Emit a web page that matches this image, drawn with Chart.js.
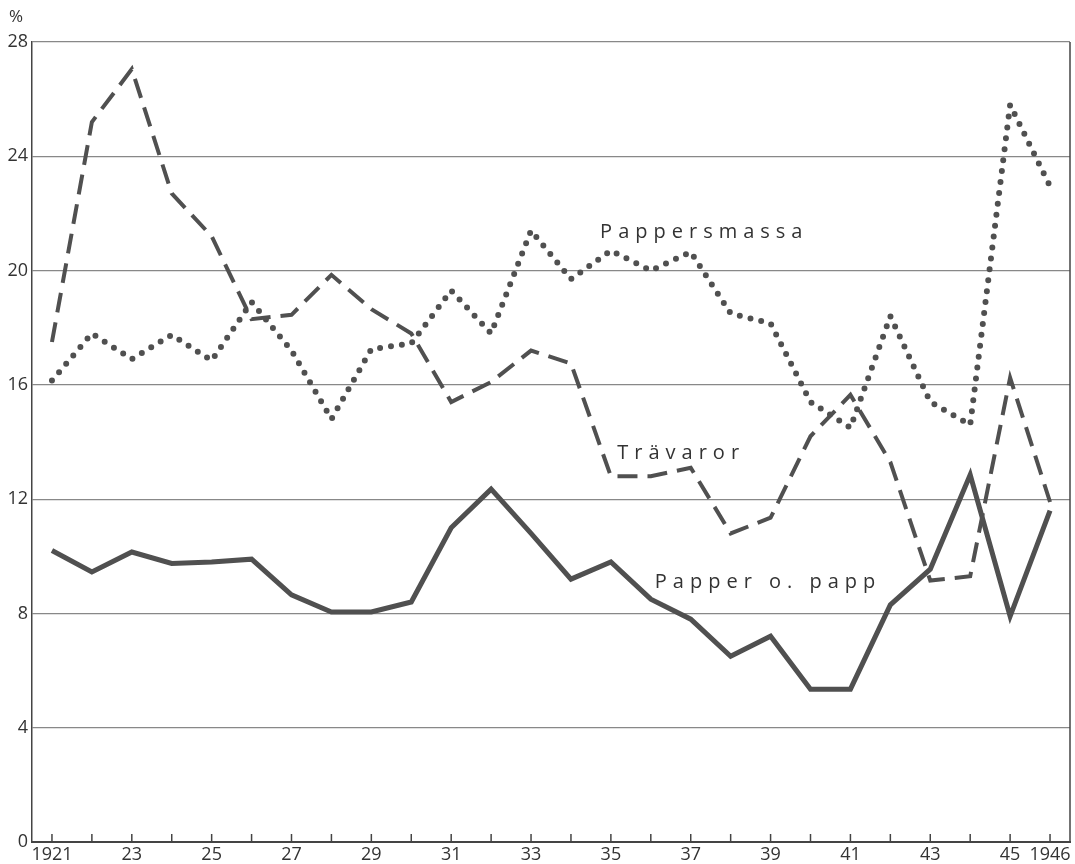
<!DOCTYPE html>
<html lang="sv">
<head>
<meta charset="UTF-8">
<title>Pappersmassa, Trävaror, Papper o. papp 1921-1946</title>
<script src="https://cdn.jsdelivr.net/npm/chart.js"></script>
<style>
  html, body { margin: 0; padding: 0; background: #fff; }
  #wrap { width: 1075px; height: 864px; }
</style>
</head>
<body>
<div id="wrap"><canvas id="chart" width="1075" height="864"></canvas></div>
<script>
const years = [1921, 1922, 1923, 1924, 1925, 1926, 1927, 1928, 1929, 1930, 1931, 1932, 1933,
               1934, 1935, 1936, 1937, 1938, 1939, 1940, 1941, 1942, 1943, 1944, 1945, 1946];

const pappersmassa = [16.15, 17.8, 16.9, 17.75, 16.85, 18.9, 17.2, 14.8, 17.25, 17.45, 19.3, 17.8, 21.4,
                      19.7, 20.7, 20.0, 20.65, 18.5, 18.15, 15.4, 14.5, 18.4, 15.4, 14.6, 25.8, 22.95];

const travaror = [17.5, 25.2, 27.05, 22.7, 21.2, 18.3, 18.45, 19.85, 18.65, 17.8, 15.4, 16.1, 17.2,
                  16.75, 12.8, 12.8, 13.1, 10.8, 11.35, 14.2, 15.65, 13.3, 9.15, 9.3, 16.25, 11.9];

const papper = [10.2, 9.45, 10.15, 9.75, 9.8, 9.9, 8.65, 8.05, 8.05, 8.4, 11.0, 12.35, 10.8,
                9.2, 9.8, 8.5, 7.8, 6.5, 7.2, 5.35, 5.35, 8.3, 9.55, 12.85, 7.9, 11.6];

const yTicks = [0, 4, 8, 12, 16, 20, 24, 28];

// line labels: [text, x index, y value]
const lineLabels = [
  ['Pappersmassa', 13.73, 21.35],
  ['Trävaror', 14.16, 13.6],
  ['Papper o. papp', 15.1, 9.1]
];

const ink = '#505050';
const font = "'Open Sans', 'DejaVu Sans', sans-serif";

function yearLabel(y) {
  if (y === 1921 || y === 1946) return String(y);
  if (y % 2 === 1) return String(y).slice(2);
  return '';
}

const extras = {
  id: 'extras',
  afterDraw(chart) {
    const ctx = chart.ctx;
    const area = chart.chartArea;
    const xs = chart.scales.x;
    const ys = chart.scales.y;
    ctx.save();
    // right frame line
    ctx.strokeStyle = '#444';
    ctx.lineWidth = 1.5;
    ctx.beginPath();
    ctx.moveTo(area.right, area.top);
    ctx.lineTo(area.right, area.bottom);
    ctx.stroke();
    // small year ticks pointing up from the x axis
    years.forEach((y, i) => {
      const px = xs.getPixelForValue(i);
      ctx.beginPath();
      ctx.moveTo(px, area.bottom);
      ctx.lineTo(px, area.bottom - 8);
      ctx.stroke();
    });
    // % sign
    ctx.fillStyle = '#333';
    ctx.font = '17px ' + font;
    ctx.textBaseline = 'middle';
    ctx.textAlign = 'left';
    ctx.fillText('%', 9, 17);
    // series labels
    ctx.font = '20px ' + font;
    ctx.letterSpacing = '6px';
    lineLabels.forEach(([t, xi, yv]) => {
      ctx.fillText(t, xs.getPixelForValue(xi), ys.getPixelForValue(yv));
    });
    ctx.restore();
  }
};

new Chart(document.getElementById('chart'), {
  type: 'line',
  data: {
    labels: years,
    datasets: [
      {
        label: 'Pappersmassa',
        data: pappersmassa,
        borderColor: ink,
        borderWidth: 6,
        borderDash: [0, 11],
        borderCapStyle: 'round',
        pointRadius: 0,
        tension: 0
      },
      {
        label: 'Trävaror',
        data: travaror,
        borderColor: ink,
        borderWidth: 4,
        borderDash: [20, 10],
        borderJoinStyle: 'miter',
        pointRadius: 0,
        tension: 0
      },
      {
        label: 'Papper o. papp',
        data: papper,
        borderColor: ink,
        borderWidth: 5,
        borderJoinStyle: 'miter',
        pointRadius: 0,
        tension: 0
      }
    ]
  },
  options: {
    responsive: false,
    animation: false,
    layout: { padding: { top: 42, right: 5, left: 0, bottom: 0 } },
    plugins: {
      legend: { display: false },
      tooltip: { enabled: false }
    },
    scales: {
      x: {
        type: 'category',
        offset: true,
        afterFit: s => { s.height = 22; },
        grid: { display: false, drawTicks: false },
        border: { display: true, color: '#444', width: 2 },
        ticks: {
          autoSkip: false,
          maxRotation: 0,
          padding: 2,
          color: '#333',
          font: { family: font, size: 18 },
          callback: (v, i) => yearLabel(years[i])
        }
      },
      y: {
        min: 0,
        max: 28,
        afterFit: s => { s.width = 32; },
        afterBuildTicks: s => { s.ticks = yTicks.map(v => ({ value: v })); },
        grid: { color: '#888', lineWidth: 1.2, drawTicks: false },
        border: { display: true, color: '#444', width: 1.5 },
        ticks: {
          padding: 4,
          color: '#333',
          font: { family: font, size: 18 }
        }
      }
    }
  },
  plugins: [extras]
});
</script>
</body>
</html>
